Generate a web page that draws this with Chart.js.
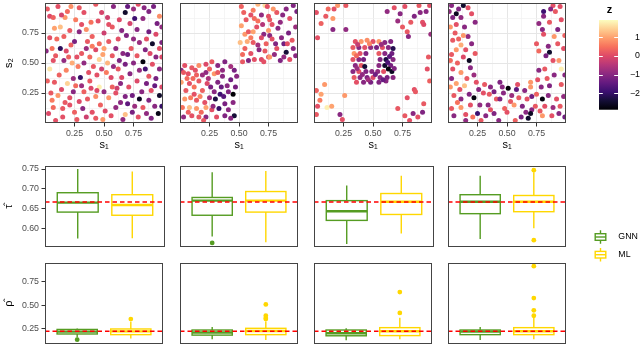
<!DOCTYPE html>
<html>
<head>
<meta charset="utf-8">
<script src="https://cdn.jsdelivr.net/npm/chart.js@4.4.1/dist/chart.umd.min.js"></script>
<style>
  html, body { margin: 0; padding: 0; background: #fff; }
  #wrap { position: relative; width: 640px; height: 346px; overflow: hidden; background: #fff; }
  #wrap canvas { position: absolute; }
</style>
</head>
<body>
<div id="wrap"></div>
<script>
// simulated fields, one point per row: [s1, s2, z]
const fieldA = [
  [0.04,0.89,0.0],[0.07,0.88,0.3],[0.11,0.97,0.1],[0.17,0.88,0.9],[0.22,0.97,0.8],[0.29,0.96,0.2],
  [0.08,0.79,1.0],[0.13,0.80,1.3],[0.14,0.90,-0.1],[0.21,0.77,0.2],[0.04,0.71,0.1],[0.01,0.60,-1.0],
  [0.13,0.62,-2.1],[0.18,0.60,0.0],[0.22,0.65,0.3],[0.25,0.68,-1.2],[0.29,0.76,-1.0],[0.31,0.82,0.1],
  [0.35,0.78,0.8],[0.36,0.68,0.2],[0.43,0.61,0.0],[0.46,0.66,0.4],[0.50,0.62,1.0],[0.54,0.82,0.1],
  [0.53,0.88,-0.2],[0.43,0.99,0.2],[0.58,0.97,-1.0],[0.63,0.86,0.0],[0.68,0.92,-2.5],[0.72,0.83,-0.1],
  [0.69,0.73,-1.1],[0.60,0.62,-0.9],[0.54,0.68,0.2],[0.07,0.52,0.1],[0.04,0.45,1.7],[0.18,0.44,0.7],
  [0.24,0.37,-0.8],[0.30,0.38,-2.0],[0.37,0.42,0.1],[0.46,0.53,1.5],[0.49,0.57,1.0],[0.53,0.50,1.2],
  [0.58,0.47,-0.9],[0.68,0.49,-1.2],[0.65,0.38,0.0],[0.72,0.41,-1.0],[0.08,0.34,0.2],[0.14,0.28,0.0],
  [0.19,0.33,1.5],[0.11,0.23,0.9],[0.24,0.26,-1.0],[0.21,0.21,0.1],[0.33,0.26,0.3],[0.39,0.29,0.0],
  [0.36,0.20,0.2],[0.43,0.22,0.8],[0.46,0.30,1.8],[0.54,0.21,0.9],[0.60,0.25,0.1],[0.61,0.29,-0.2],
  [0.68,0.22,-1.1],[0.74,0.23,-1.3],[0.03,0.08,0.0],[0.15,0.12,0.2],[0.21,0.15,0.1],[0.25,0.09,0.3],
  [0.32,0.12,-1.0],[0.40,0.09,0.1],[0.51,0.10,0.0],[0.60,0.13,-0.9],[0.68,0.07,1.3],[0.74,0.09,-1.2],
  [0.07,0.13,0.4],[0.27,0.03,0.2],[0.49,0.03,0.9],
  [0.79,0.99,0.1],[0.88,0.93,-1.1],[0.83,0.87,-0.9],[0.97,0.89,0.8],[0.78,0.78,-1.0],[0.88,0.76,-1.3],
  [0.94,0.74,0.0],[0.80,0.67,-0.8],[0.91,0.66,-2.5],[0.97,0.62,0.1],[0.85,0.61,-1.1],[0.78,0.56,0.2],
  [0.89,0.58,0.0],[0.83,0.51,-2.8],[0.91,0.49,0.1],[0.97,0.45,-1.0],[0.80,0.44,-0.9],[0.88,0.39,0.2],
  [0.78,0.35,0.0],[0.94,0.37,-1.2],[0.82,0.26,-1.0],[0.90,0.27,0.1],[0.80,0.20,-2.6],[0.88,0.19,-1.1],
  [0.97,0.23,-2.5],[0.93,0.14,-1.0],[0.83,0.13,0.2],[0.96,0.08,-2.7],[0.86,0.08,-0.9],[0.79,0.05,0.1],
  [0.02,0.95,0.2],[0.10,0.70,0.4],[0.27,0.55,0.1],[0.33,0.50,-0.9],[0.40,0.72,0.3],[0.45,0.85,0.1],
  [0.50,0.75,-0.2],[0.62,0.70,0.1],[0.66,0.58,-1.0],[0.73,0.62,0.2],[0.75,0.95,-0.8],[0.12,0.40,0.3],
  [0.28,0.47,0.6],[0.41,0.47,0.2],[0.56,0.38,0.0],[0.62,0.45,0.2],[0.05,0.25,0.2],[0.29,0.18,0.0],
  [0.47,0.15,0.3],[0.56,0.06,0.1],[0.64,0.17,-1.0],[0.71,0.30,0.1],[0.35,0.05,-0.2],[0.15,0.05,0.1],
  [0.92,0.97,-1.2],[0.99,0.80,-0.9],[0.93,0.31,-1.4],[0.99,0.55,0.0],[0.85,0.45,-1.8],[0.76,0.14,-0.8],
  [0.06,0.62,0.5],[0.09,0.56,0.2],[0.16,0.52,-0.9],[0.20,0.55,0.3],[0.23,0.50,1.1],[0.31,0.58,0.2],
  [0.35,0.62,-0.8],[0.38,0.55,0.4],[0.44,0.40,0.1],[0.48,0.45,-0.2],[0.52,0.42,0.6],[0.57,0.56,0.2],
  [0.63,0.52,-1.1],[0.70,0.57,-1.3],[0.75,0.50,-1.0],[0.02,0.35,0.3],[0.06,0.19,0.6],[0.17,0.17,0.2],
  [0.26,0.31,0.4],[0.31,0.31,-0.8],[0.38,0.35,0.2],[0.44,0.27,0.0],[0.50,0.26,-0.9],[0.57,0.30,0.3],
  [0.64,0.33,-1.0],[0.70,0.16,-1.5],[0.66,0.03,-0.9],[0.43,0.04,0.2],[0.09,0.02,0.1],[0.19,0.93,0.4],
  [0.26,0.86,0.6],[0.33,0.92,0.1],[0.39,0.84,0.5],[0.48,0.92,-0.1],[0.57,0.80,0.2],[0.65,0.77,-1.0],
  [0.70,0.97,-1.4],[0.76,0.87,-1.9],[0.84,0.96,-1.0],[0.95,0.83,-1.2],[0.86,0.70,0.1],[0.99,0.67,-1.1],
  [0.94,0.55,-1.0],[0.86,0.33,-1.2],[0.99,0.30,0.0],[0.90,0.04,-1.1],[0.99,0.14,-2.0],[0.75,0.70,-0.9],
  [0.40,0.64,0.6],[0.16,0.72,0.3]
];
const fieldB = [
  [0.04,0.48,0.1],[0.10,0.46,0.2],[0.16,0.48,0.8],[0.22,0.49,0.0],[0.27,0.51,0.2],[0.32,0.48,-1.0],
  [0.38,0.51,-1.1],[0.07,0.41,0.1],[0.14,0.40,0.3],[0.22,0.42,-0.9],[0.29,0.41,0.9],[0.36,0.39,-1.0],
  [0.46,0.44,-1.2],[0.01,0.34,1.0],[0.08,0.33,0.1],[0.16,0.35,0.2],[0.23,0.33,0.0],[0.32,0.34,-1.1],
  [0.40,0.31,-1.0],[0.45,0.24,-2.9],[0.05,0.27,0.2],[0.12,0.24,0.1],[0.29,0.26,-1.0],[0.34,0.24,-1.9],
  [0.41,0.26,-1.1],[0.04,0.20,0.9],[0.14,0.19,0.2],[0.21,0.17,0.1],[0.30,0.20,-2.3],[0.38,0.16,-1.2],
  [0.45,0.17,-1.0],[0.08,0.13,1.3],[0.14,0.12,0.9],[0.22,0.13,1.0],[0.27,0.11,0.1],[0.33,0.12,-2.0],
  [0.41,0.11,-1.0],[0.03,0.05,-0.9],[0.10,0.06,0.1],[0.16,0.05,0.2],[0.22,0.05,-1.0],[0.31,0.05,0.1],
  [0.38,0.06,-1.1],[0.46,0.06,-2.4],[0.01,0.44,-1.0],[0.32,0.42,0.2],[0.19,0.27,0.3],[0.25,0.21,-0.8],
  [0.11,0.37,0.4],[0.36,0.44,-0.9],[0.43,0.36,-1.3],[0.02,0.13,0.5],[0.26,0.30,-1.2],[0.18,0.09,0.4],
  [0.43,0.47,-0.7],[0.09,0.21,0.6],
  [0.06,0.37,0.4],[0.13,0.44,0.1],[0.19,0.40,-0.8],[0.25,0.45,0.3],[0.35,0.30,-1.4],[0.47,0.30,-1.2],
  [0.07,0.09,0.3],[0.12,0.30,0.5],[0.28,0.14,-0.9],[0.37,0.22,-1.6],[0.43,0.04,-1.0],[0.20,0.02,0.2],
  [0.03,0.42,0.2],[0.48,0.39,-1.0],[0.17,0.22,0.7],[0.24,0.37,-0.6],
  [0.52,0.81,1.0],[0.56,0.86,0.2],[0.55,0.74,0.9],[0.60,0.90,0.1],[0.66,0.99,1.2],[0.72,0.98,1.6],
  [0.69,0.90,-0.9],[0.75,0.89,0.1],[0.58,0.76,0.2],[0.65,0.80,0.1],[0.71,0.74,-1.0],[0.57,0.68,1.1],
  [0.62,0.67,0.2],[0.69,0.71,0.0],[0.76,0.73,-1.0],[0.55,0.62,0.3],[0.60,0.58,0.1],[0.67,0.61,-1.0],
  [0.72,0.60,0.2],[0.58,0.52,-1.1],[0.63,0.53,0.1],[0.69,0.53,0.0],[0.75,0.55,0.2],[0.52,0.97,0.3],
  [0.74,0.97,0.1],[0.79,0.95,0.9],[0.90,0.95,-1.0],[0.96,0.98,-1.1],[0.76,0.86,0.2],[0.85,0.84,-0.9],
  [0.93,0.87,0.1],[0.75,0.77,0.9],[0.83,0.79,-1.0],[0.92,0.75,-1.2],[0.78,0.70,0.1],[0.86,0.71,-1.0],
  [0.95,0.69,0.2],[0.82,0.62,0.1],[0.90,0.59,-2.4],[0.96,0.62,-1.0],[0.76,0.55,0.9],[0.85,0.52,-1.1],
  [0.93,0.53,0.1],[0.53,0.57,0.4],[0.62,0.94,0.6],[0.82,0.92,0.2],[0.88,0.66,-1.3],[0.98,0.80,-0.8],
  [0.66,0.85,0.5],[0.80,0.57,-0.9],[0.51,0.67,1.3],
  [0.54,0.92,0.3],[0.63,0.87,0.4],[0.70,0.82,-0.5],[0.78,0.82,0.1],[0.87,0.90,-1.0],[0.99,0.93,-1.2],
  [0.60,0.71,0.6],[0.66,0.65,-0.7],[0.73,0.66,0.3],[0.81,0.66,-1.1],[0.91,0.66,0.1],[0.98,0.56,-1.0],
  [0.88,0.55,-0.9],[0.71,0.51,0.1],[0.53,0.51,0.2],[0.62,0.76,1.0]
];
const fieldC = [
  [0.35,0.68,0.1],[0.40,0.68,0.9],[0.45,0.69,0.8],[0.50,0.68,0.1],[0.55,0.68,0.9],[0.60,0.67,-1.0],
  [0.65,0.68,-1.1],[0.33,0.63,0.2],[0.38,0.63,-1.0],[0.43,0.63,0.1],[0.48,0.63,-0.9],[0.53,0.63,-1.2],
  [0.58,0.63,0.1],[0.63,0.63,-1.0],[0.67,0.62,-2.2],[0.34,0.58,0.9],[0.39,0.58,0.1],[0.44,0.58,-1.1],
  [0.55,0.58,0.2],[0.60,0.58,-1.0],[0.66,0.58,-1.3],[0.33,0.53,0.1],[0.38,0.53,-1.0],[0.42,0.53,-1.2],
  [0.56,0.53,-1.1],[0.61,0.53,-2.3],[0.67,0.53,-1.0],[0.35,0.48,-1.0],[0.40,0.48,0.2],[0.43,0.47,-2.4],
  [0.55,0.48,-1.0],[0.60,0.48,-2.5],[0.65,0.48,-1.2],[0.33,0.43,-1.0],[0.38,0.43,0.1],[0.44,0.43,-1.1],
  [0.49,0.43,-1.0],[0.54,0.43,-0.9],[0.59,0.43,0.1],[0.63,0.45,-2.8],[0.66,0.43,-2.6],[0.34,0.38,0.2],
  [0.39,0.38,-1.0],[0.45,0.38,-1.1],[0.50,0.38,0.0],[0.56,0.38,-1.0],[0.62,0.38,-1.2],[0.67,0.38,-1.0],
  [0.36,0.34,0.1],[0.42,0.34,-1.0],[0.48,0.34,-1.2],[0.55,0.34,-1.1],[0.61,0.35,-1.0],
  [0.37,0.655,-0.3],[0.47,0.66,0.7],[0.57,0.655,-0.8],[0.36,0.56,0.4],[0.64,0.555,-1.5],[0.365,0.455,-0.8],
  [0.625,0.505,-1.7],[0.41,0.405,-0.9],[0.52,0.405,-1.3],[0.585,0.36,-1.4],[0.46,0.36,-0.7],[0.68,0.455,-1.1],
  [0.02,0.92,0.1],[0.10,0.89,0.2],[0.16,0.87,0.9],[0.17,0.95,0.1],[0.20,0.98,0.9],[0.27,0.98,0.2],
  [0.03,0.71,0.1],[0.16,0.78,-1.0],[0.27,0.78,-0.9],[0.02,0.27,0.3],[0.09,0.32,0.9],[0.06,0.24,1.0],
  [0.03,0.14,0.1],[0.02,0.07,0.2],[0.11,0.13,1.8],[0.15,0.14,1.0],[0.26,0.23,0.9],[0.22,0.07,-1.0],
  [0.24,0.03,0.1],[0.68,0.96,0.1],[0.73,0.91,-1.0],[0.85,0.89,-1.1],[0.89,0.98,0.2],[0.92,0.84,0.1],
  [0.93,0.82,0.0],[0.79,0.76,0.2],[0.80,0.72,-1.0],[0.85,0.28,0.1],[0.86,0.26,0.2],[0.79,0.21,0.1],
  [0.71,0.12,0.2],[0.84,0.08,-1.0],[0.88,0.05,0.1],[0.92,0.09,-1.1],[0.77,0.06,0.2],[0.97,0.55,0.2],
  [0.96,0.45,0.1],[0.98,0.35,0.3],[0.62,0.93,-0.9],[0.77,0.97,0.1],[0.95,0.93,-1.0],[0.82,0.84,0.2],
  [0.99,0.74,-0.8],[0.06,0.83,0.3],[0.12,0.95,0.4],[0.71,0.85,-0.8],[0.90,0.92,-1.0],[0.98,0.98,0.1],
  [0.75,0.80,0.2],[0.93,0.16,0.2],[0.81,0.02,0.1],[0.05,0.19,0.6]
];
const fieldD = [
  [0.03,0.98,-1.0],[0.07,0.91,-2.6],[0.04,0.88,-1.1],[0.11,0.88,-0.9],[0.20,0.91,0.1],[0.13,0.98,-2.5],
  [0.02,0.80,0.9],[0.07,0.82,0.1],[0.14,0.80,-1.0],[0.06,0.75,0.2],[0.11,0.65,1.1],[0.07,0.61,0.9],
  [0.15,0.61,0.1],[0.03,0.57,0.2],[0.13,0.55,0.0],[0.18,0.52,-2.6],[0.19,0.46,-1.0],[0.11,0.42,0.9],
  [0.04,0.45,0.1],[0.03,0.37,-1.0],[0.02,0.30,0.9],[0.10,0.28,0.1],[0.14,0.31,1.3],[0.05,0.23,0.2],
  [0.11,0.20,-1.0],[0.18,0.24,-1.1],[0.22,0.21,-2.8],[0.26,0.28,-1.0],[0.30,0.25,0.1],[0.36,0.30,-1.0],
  [0.44,0.34,-1.1],[0.51,0.29,-2.9],[0.47,0.25,-1.0],[0.41,0.20,0.2],[0.34,0.15,-1.0],[0.27,0.15,-0.9],
  [0.19,0.15,0.1],[0.11,0.13,0.9],[0.03,0.12,0.2],[0.05,0.06,-1.0],[0.15,0.07,0.1],[0.25,0.08,-1.9],
  [0.32,0.06,-1.0],[0.39,0.08,-1.1],[0.50,0.09,0.1],[0.56,0.15,0.9],[0.60,0.21,0.2],[0.59,0.32,0.1],
  [0.65,0.27,-1.0],[0.67,0.20,0.1],[0.66,0.09,-1.0],[0.68,0.04,-2.5],[0.70,0.30,0.9],[0.44,0.20,-1.1],
  [0.89,0.98,0.1],[0.81,0.93,-1.9],[0.91,0.93,0.2],[0.96,0.86,0.1],[0.81,0.89,-1.0],[0.86,0.84,0.2],
  [0.80,0.78,-1.0],[0.93,0.78,-1.1],[0.90,0.72,0.9],[0.81,0.74,0.1],[0.85,0.64,-1.0],[0.93,0.66,0.2],
  [0.86,0.59,-2.5],[0.89,0.52,0.1],[0.94,0.52,0.9],[0.96,0.45,1.8],[0.82,0.45,0.2],[0.90,0.40,-1.0],
  [0.76,0.36,0.1],[0.70,0.34,0.9],[0.79,0.30,-1.0],[0.86,0.31,-1.1],[0.96,0.32,0.2],[0.80,0.20,-2.8],
  [0.85,0.23,-1.0],[0.92,0.20,0.1],[0.74,0.14,0.2],[0.82,0.14,0.1],[0.95,0.14,0.2],[0.71,0.11,-1.0],
  [0.80,0.06,0.9],[0.88,0.06,0.1],[0.94,0.08,-1.0],[0.70,0.08,-2.6],
  [0.09,0.70,0.3],[0.17,0.72,-0.9],[0.02,0.52,0.4],[0.16,0.37,0.2],[0.24,0.34,0.1],[0.54,0.23,-0.8],
  [0.48,0.12,0.3],[0.62,0.05,-1.2],[0.35,0.24,0.2],[0.21,0.05,0.5],[0.98,0.62,0.1],[0.77,0.60,0.4],
  [0.98,0.22,-0.9],[0.75,0.24,0.3],[0.28,0.02,0.2],[0.58,0.28,-1.5],
  [0.01,0.93,-0.9],[0.09,0.95,-1.1],[0.17,0.96,0.1],[0.23,0.84,-1.0],[0.04,0.69,0.2],[0.13,0.73,0.9],
  [0.20,0.66,-1.0],[0.23,0.58,0.2],[0.08,0.50,0.3],[0.22,0.40,-0.8],[0.07,0.33,1.0],[0.31,0.32,0.2],
  [0.39,0.26,-1.2],[0.46,0.30,-1.0],[0.53,0.18,0.2],[0.63,0.14,-1.1],[0.57,0.02,0.3],[0.43,0.02,-1.0],
  [0.36,0.11,0.1],[0.15,0.02,-0.9],[0.08,0.17,0.5],[0.71,0.22,-1.3],[0.77,0.44,-1.0],[0.84,0.37,0.2],
  [0.99,0.40,-1.0],[0.75,0.66,0.2],[0.83,0.56,-1.2],[0.99,0.73,0.3],[0.77,0.83,-0.9],[0.87,0.95,-1.0],
  [0.95,0.97,0.1],[0.99,0.05,-1.3],[0.89,0.13,-0.8],[0.78,0.10,0.2]
];
const fields = [fieldA, fieldB, fieldC, fieldD];
const sTicks = [0.25, 0.5, 0.75];
const zLimits = [-2.89, 1.94];
const zTicks = [-2, -1, 0, 1];

// estimates per scenario: [lower whisker, q1, median, q3, upper whisker]
const methods = ['GNN', 'ML'];
const tauTrue = 0.6667;
const tauGNN = [[0.574,0.641,0.665,0.690,0.750],[0.579,0.633,0.670,0.678,0.742],[0.560,0.620,0.643,0.670,0.708],[0.573,0.637,0.667,0.685,0.733]];
const tauML  = [[0.575,0.633,0.659,0.685,0.744],[0.565,0.641,0.670,0.693,0.745],[0.587,0.635,0.667,0.688,0.733],[0.600,0.642,0.667,0.683,0.742]];
const tauGNNOut = [[], [0.563], [], []];
const tauMLOut  = [[], [], [], [0.747, 0.570]];
const tauRange = [0.5527, 0.7576];
const tauTicks = [0.60, 0.65, 0.70, 0.75];

const rhoTrue = 0.226;
const rhoGNN = [[0.160,0.197,0.222,0.245,0.255],[0.140,0.185,0.212,0.239,0.270],[0.130,0.178,0.204,0.239,0.257],[0.134,0.190,0.222,0.239,0.270]];
const rhoML  = [[0.148,0.190,0.225,0.250,0.327],[0.134,0.190,0.228,0.257,0.330],[0.140,0.180,0.226,0.264,0.370],[0.140,0.190,0.226,0.264,0.370]];
const rhoGNNOut = [[0.137], [], [], []];
const rhoMLOut  = [[0.355], [0.510, 0.390, 0.365, 0.355], [0.640, 0.420], [0.914, 0.577, 0.447, 0.390]];
const rhoRange = [0.091, 0.948];
const rhoTicks = [0.25, 0.50, 0.75];

const GNN_COL = '#559c22';
const ML_COL = '#ffd700';
const AX_TXT = '#4d4d4d';
const magmaStops = ['#000004','#140e36','#3b0f70','#641a80','#8c2981','#b73779','#de4968','#f7705c','#fe9f6d','#fecf92','#fcfdbf'];

Chart.defaults.font.family = "'Liberation Sans', Arial, sans-serif";

const wrap = document.getElementById('wrap');
const panelX = [45, 180, 314, 448];
const PW = 120, AXW = 45;

function addCanvas(left, top, w, h) {
  const c = document.createElement('canvas');
  c.width = w; c.height = h;
  c.style.left = left + 'px'; c.style.top = top + 'px';
  c.style.width = w + 'px'; c.style.height = h + 'px';
  wrap.appendChild(c);
  return c;
}

function hexRgb(h) {
  return [1, 3, 5].map(i => parseInt(h.slice(i, i + 2), 16));
}

function zColor(z) {
  let t = (z - zLimits[0]) / (zLimits[1] - zLimits[0]);
  t = Math.min(1, Math.max(0, t)) * (magmaStops.length - 1);
  const k = Math.min(Math.floor(t), magmaStops.length - 2), f = t - k;
  const a = hexRgb(magmaStops[k]), b = hexRgb(magmaStops[k + 1]);
  const c = a.map((v, i) => Math.round(v + (b[i] - v) * f));
  return `rgb(${c[0]},${c[1]},${c[2]})`;
}

const panelBorder = {
  id: 'panelBorder',
  afterDraw(chart) {
    const { ctx, chartArea: a } = chart;
    ctx.save();
    ctx.strokeStyle = '#444';
    ctx.lineWidth = 1;
    ctx.strokeRect(Math.round(a.left) + 0.5, Math.round(a.top) + 0.5, Math.round(a.width) - 1, Math.round(a.height) - 1);
    ctx.restore();
  }
};

const baseOpts = {
  responsive: false,
  animation: false,
  events: [],
  plugins: { legend: { display: false }, tooltip: { enabled: false } }
};

const isMajor = v => sTicks.some(t => Math.abs(t - v) < 1e-6);
const isEdge = v => v < 1e-6 || v > 1 - 1e-6;
const sTickLabel = v => isEdge(v) ? null : (isMajor(v) ? v.toFixed(2) : '');

function fieldGrid(showTicks) {
  return {
    color: c => isMajor(c.tick.value) ? '#e6e6e6' : '#f1f1f1',
    lineWidth: c => isMajor(c.tick.value) ? 1 : 0.7,
    drawTicks: showTicks,
    tickLength: 3.5,
    tickColor: c => isMajor(c.tick.value) ? '#333' : 'rgba(0,0,0,0)'
  };
}

function fieldChart(i) {
  const pts = fields[i];
  const first = i === 0;
  const cv = addCanvas(panelX[i] - AXW, -7, AXW + PW + 2, 160);
  new Chart(cv, {
    type: 'scatter',
    data: {
      datasets: [{
        data: pts.map(p => ({ x: p[0], y: p[1] })),
        pointBackgroundColor: pts.map(p => zColor(p[2])),
        pointBorderWidth: 0,
        pointRadius: 2.5,
        clip: 0
      }]
    },
    options: {
      ...baseOpts,
      layout: { padding: { left: 0, right: 2, top: 10, bottom: 0 } },
      scales: {
        x: {
          min: 0, max: 1,
          ticks: { stepSize: 0.125, autoSkip: false, maxRotation: 0, padding: 2, color: AX_TXT, font: { size: 8.8 }, callback: sTickLabel },
          grid: fieldGrid(true),
          border: { display: false },
          title: { display: true, text: 's\u2081', color: '#000', font: { size: 11 }, padding: { top: 0, bottom: 1 } },
          afterFit: s => { s.height = 30; }
        },
        y: {
          min: 0, max: 1,
          ticks: { display: first, stepSize: 0.125, autoSkip: false, padding: 2.5, color: AX_TXT, font: { size: 8.8 }, callback: sTickLabel },
          grid: fieldGrid(first),
          border: { display: false },
          title: { display: first, text: 's\u2082', color: '#000', font: { size: 11 }, padding: { top: 2, bottom: 0 } },
          afterFit: s => { s.width = AXW; }
        }
      }
    },
    plugins: [panelBorder]
  });
}

function boxLayer(stats) {
  const cols = [GNN_COL, ML_COL];
  return {
    id: 'boxLayer',
    beforeDatasetsDraw(chart) {
      const { ctx, scales: { x, y } } = chart;
      stats.forEach((s, k) => {
        const [lo, q1, med, q3, hi] = s.map(v => y.getPixelForValue(v));
        const xc = x.getPixelForValue(k + 1);
        const hw = x.getPixelForValue(k + 1.375) - xc;
        ctx.save();
        ctx.strokeStyle = cols[k];
        ctx.lineWidth = 1.4;
        ctx.beginPath();
        ctx.moveTo(xc, hi); ctx.lineTo(xc, q3);
        ctx.moveTo(xc, q1); ctx.lineTo(xc, lo);
        ctx.stroke();
        ctx.strokeRect(xc - hw, q3, 2 * hw, q1 - q3);
        ctx.lineWidth = 2.4;
        ctx.beginPath();
        ctx.moveTo(xc - hw, med); ctx.lineTo(xc + hw, med);
        ctx.stroke();
        ctx.restore();
      });
    }
  };
}

function boxChart(row, i) {
  const first = i === 0;
  const cv = addCanvas(panelX[i] - AXW, row.top - 10, AXW + PW + 2, 99);
  new Chart(cv, {
    type: 'scatter',
    data: {
      datasets: [
        { data: [{ x: 0.4, y: row.truth }, { x: 2.6, y: row.truth }], showLine: true, borderColor: '#ff0000',
          borderWidth: 1.4, borderDash: [4.5, 3], pointRadius: 0, clip: 0 },
        { label: methods[0], data: row.gnnOut[i].map(v => ({ x: 1, y: v })), pointBackgroundColor: GNN_COL, pointBorderWidth: 0, pointRadius: 2.4 },
        { label: methods[1], data: row.mlOut[i].map(v => ({ x: 2, y: v })), pointBackgroundColor: ML_COL, pointBorderWidth: 0, pointRadius: 2.4 }
      ]
    },
    options: {
      ...baseOpts,
      layout: { padding: { left: 0, right: 2, top: 10, bottom: 8 } },
      scales: {
        x: { display: false, min: 0.4, max: 2.6 },
        y: {
          min: row.range[0], max: row.range[1],
          afterBuildTicks: s => { s.ticks = row.ticks.map(v => ({ value: v })); },
          ticks: { display: first, padding: 2.5, color: AX_TXT, font: { size: 8.8 }, callback: v => v.toFixed(2) },
          grid: { drawOnChartArea: false, drawTicks: first, tickLength: 3.5, tickColor: '#333' },
          border: { display: false },
          title: { display: first, text: row.title, color: '#000', font: { size: 11 }, padding: { top: 2, bottom: 0 } },
          afterFit: s => { s.width = AXW; }
        }
      }
    },
    plugins: [boxLayer([row.gnn[i], row.ml[i]]), panelBorder]
  });
}

const tauRow = { top: 166, truth: tauTrue, gnn: tauGNN, ml: tauML, gnnOut: tauGNNOut, mlOut: tauMLOut, range: tauRange, ticks: tauTicks, title: '\u03c4\u0302' };
const rhoRow = { top: 263, truth: rhoTrue, gnn: rhoGNN, ml: rhoML, gnnOut: rhoGNNOut, mlOut: rhoMLOut, range: rhoRange, ticks: rhoTicks, title: '\u03c1\u0302' };

for (let i = 0; i < 4; i++) {
  fieldChart(i);
  boxChart(tauRow, i);
  boxChart(rhoRow, i);
}

// colour bar for z
const colorBar = {
  id: 'colorBar',
  afterDraw(chart) {
    const { ctx, chartArea: a, scales: { y } } = chart;
    const g = ctx.createLinearGradient(0, a.bottom, 0, a.top);
    magmaStops.forEach((c, k) => g.addColorStop(k / (magmaStops.length - 1), c));
    ctx.save();
    ctx.fillStyle = g;
    ctx.fillRect(a.left, a.top, a.width, a.height);
    ctx.strokeStyle = '#fff';
    ctx.lineWidth = 1;
    zTicks.forEach(v => {
      const py = Math.round(y.getPixelForValue(v)) + 0.5;
      ctx.beginPath();
      ctx.moveTo(a.left, py); ctx.lineTo(a.left + 3.8, py);
      ctx.moveTo(a.right - 3.8, py); ctx.lineTo(a.right, py);
      ctx.stroke();
    });
    ctx.fillStyle = '#000';
    ctx.font = "bold 11px 'Liberation Sans', Arial, sans-serif";
    ctx.textAlign = 'center';
    ctx.textBaseline = 'middle';
    ctx.fillText('z', (a.left + a.right) / 2 + 1, 10);
    ctx.restore();
  }
};

new Chart(addCanvas(590, 0, 50, 125), {
  type: 'scatter',
  data: { datasets: [] },
  options: {
    ...baseOpts,
    layout: { padding: { left: 9, right: 0, top: 20, bottom: 12 } },
    scales: {
      x: { display: false, min: 0, max: 1 },
      y: {
        position: 'right',
        min: zLimits[0], max: zLimits[1],
        afterBuildTicks: s => { s.ticks = zTicks.map(v => ({ value: v })); },
        ticks: { crossAlign: 'far', padding: 10, color: '#000', font: { size: 8.8 },
                 callback: v => (v < 0 ? '\u2212' : '') + Math.abs(v) },
        grid: { display: false, drawTicks: false },
        border: { display: false },
        afterFit: s => { s.width = 22; }
      }
    }
  },
  plugins: [colorBar]
});

// legend for the two estimators
const keyLegend = {
  id: 'keyLegend',
  afterDraw(chart) {
    const { ctx } = chart;
    const cols = [GNN_COL, ML_COL];
    methods.forEach((m, k) => {
      const cy = 15 + k * 17.7;
      const cx = 15.5;
      ctx.save();
      ctx.strokeStyle = cols[k];
      ctx.lineWidth = 1.4;
      ctx.beginPath();
      ctx.moveTo(cx, cy - 6.7); ctx.lineTo(cx, cy - 3.3);
      ctx.moveTo(cx, cy + 3.3); ctx.lineTo(cx, cy + 6.7);
      ctx.stroke();
      ctx.strokeRect(cx - 5.3, cy - 3.3, 10.6, 6.6);
      ctx.beginPath();
      ctx.moveTo(cx - 5.3, cy); ctx.lineTo(cx + 5.3, cy);
      ctx.stroke();
      ctx.fillStyle = '#000';
      ctx.font = "8.8px 'Liberation Sans', Arial, sans-serif";
      ctx.textAlign = 'left';
      ctx.textBaseline = 'middle';
      ctx.fillText(m, 33.3, cy);
      ctx.restore();
    });
  }
};

new Chart(addCanvas(585, 222, 55, 48), {
  type: 'scatter',
  data: { datasets: [] },
  options: { ...baseOpts, scales: { x: { display: false }, y: { display: false } } },
  plugins: [keyLegend]
});
</script>
</body>
</html>
